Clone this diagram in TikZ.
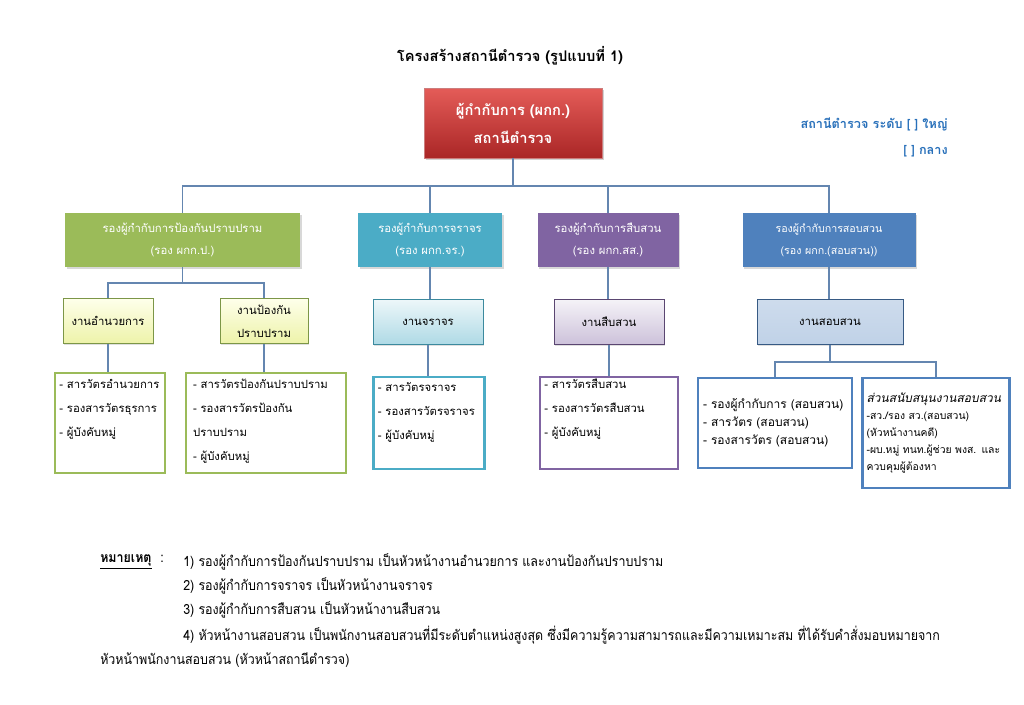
\documentclass[tikz,border=0pt]{standalone}
\usepackage{fontspec}
\newfontfamily\thai[Script=Thai]{Loma}
\newfontfamily\thainote[Script=Thai,FakeStretch=0.89]{Loma}
\newfontfamily\thaiit[Script=Thai,FakeSlant=0.2]{Loma}
\usetikzlibrary{shadows}
\definecolor{linkblue}{RGB}{100,134,176}
\definecolor{chiefhi}{RGB}{228,92,88}
\definecolor{chieflo}{RGB}{170,38,38}
\definecolor{sgreen}{RGB}{155,187,89}
\definecolor{scyan}{RGB}{75,172,198}
\definecolor{spurple}{RGB}{128,100,162}
\definecolor{sblue}{RGB}{79,129,189}
\definecolor{lvlblue}{RGB}{40,112,186}

\begin{document}
\begin{tikzpicture}[x=0.75pt,y=-0.75pt]
\tikzstyle{every node}+=[font=\thai]
\tikzstyle{conn}=[draw=linkblue,line width=0.8pt]
\tikzstyle{chiefbox}=[top color=chiefhi,bottom color=chieflo,draw=chieflo!60,text=white,align=center,
  minimum width=133.5pt,minimum height=52.5pt,font=\thai\bfseries\fontsize{11}{21}\selectfont,
  drop shadow={shadow xshift=1.5pt,shadow yshift=-1.5pt,opacity=0.35}]
\tikzstyle{deputy}=[text=white,align=center,minimum height=40.5pt,inner sep=2pt,
  font=\thai\fontsize{8.5}{17}\selectfont,drop shadow={shadow xshift=1.2pt,shadow yshift=-1.2pt,opacity=0.3}]
\tikzstyle{unit}=[align=center,minimum height=34pt,inner sep=2pt,line width=0.5pt,
  font=\thai\fontsize{8.5}{17}\selectfont,drop shadow={shadow xshift=1pt,shadow yshift=-1pt,opacity=0.25}]
\tikzstyle{duty}=[draw,fill=white,line width=1.8pt]
\tikzstyle{dutytxt}=[anchor=north west,inner sep=0pt,align=left,font=\thai\fontsize{8.5}{18}\selectfont]
\tikzstyle{notetxt}=[anchor=west,inner sep=0pt,font=\thainote\fontsize{10.5}{12}\selectfont]

\fill[white] (0,0) rectangle (1024,704);
\useasboundingbox (0,0) rectangle (1024,704);

\node[font=\thai\bfseries\fontsize{11}{13}\selectfont] (title) at (510,56) {โครงสร้างสถานีตำรวจ (รูปแบบที่ 1)};
\node[chiefbox] (chief) at (513,123) {ผู้กำกับการ (ผกก.)\\สถานีตำรวจ};
\node[anchor=north east,align=right,text=lvlblue,inner sep=0pt,font=\thai\bfseries\fontsize{9.5}{19.5}\selectfont] (size) at (948,117) {สถานีตำรวจ ระดับ [ ] ใหญ่\\{[ ]} กลาง};

\node[deputy,fill=sgreen,minimum width=176.25pt] (vpp) at (182.5,240) {รองผู้กำกับการป้องกันปราบปราม\\(รอง ผกก.ป.)};
\node[deputy,fill=scyan,minimum width=108pt] (vtr) at (430,240) {รองผู้กำกับการจราจร\\(รอง ผกก.จร.)};
\node[deputy,fill=spurple,minimum width=105.75pt] (vss) at (608,240) {รองผู้กำกับการสืบสวน\\(รอง ผกก.สส.)};
\node[deputy,fill=sblue,minimum width=129.75pt,font=\thai\fontsize{8}{16}\selectfont] (vsv) at (829,240) {รองผู้กำกับการสอบสวน\\(รอง ผกก.(สอบสวน))};

\node[unit,draw=sgreen!80!black,top color=green!4!yellow!8,bottom color=sgreen!45!yellow!40,minimum width=67.5pt] (gadmin) at (108,321) {งานอำนวยการ};
\node[unit,draw=sgreen!80!black,top color=green!4!yellow!8,bottom color=sgreen!45!yellow!40,minimum width=66pt] (gprev) at (264,321) {งานป้องกัน\\ปราบปราม};
\node[unit,draw=scyan!80!black,top color=scyan!10,bottom color=scyan!45,minimum width=82.5pt] (gtraf) at (428,322) {งานจราจร};
\node[unit,draw=spurple!70!black,top color=spurple!8,bottom color=spurple!40,minimum width=82.5pt] (ginv) at (609,322) {งานสืบสวน};
\node[unit,draw=sblue!70!black,top color=sblue!28,bottom color=sblue!36,minimum width=109.5pt] (gsv) at (830,322) {งานสอบสวน};

\node[duty,draw=sgreen,minimum width=82.5pt,minimum height=75pt] (d1) at (110,423) {};
\node[duty,draw=sgreen,minimum width=120pt,minimum height=75pt] (d2) at (266,423) {};
\node[duty,draw=scyan,minimum width=83.25pt,minimum height=69pt] (d3) at (429,423) {};
\node[duty,draw=spurple,minimum width=103.5pt,minimum height=69pt] (d4) at (609,423) {};
\node[duty,draw=sblue,minimum width=115.5pt,minimum height=67.5pt,align=left,text width=108pt,inner sep=3.5pt,
  font=\thai\fontsize{9}{13.5}\selectfont] (d5) at (775,423) {- รองผู้กำกับการ (สอบสวน)\\- สารวัตร (สอบสวน)\\- รองสารวัตร (สอบสวน)};
\node[duty,draw=sblue,minimum width=110.25pt,minimum height=82.5pt,align=left,text width=104pt,inner sep=3pt,
  font=\thai\fontsize{7.8}{12.75}\selectfont] (d6) at (936,433) {{\thaiit\fontsize{9}{12.75}\selectfont ส่วนสนับสนุนงานสอบสวน}\\-สว./รอง สว.(สอบสวน)\\(หัวหน้างานคดี)\\-ผบ.หมู่ ทนท.ผู้ช่วย พงส. และ\\ควบคุมผู้ต้องหา};

\node[dutytxt] (d1t) at ([xshift=4pt,yshift=-5.5pt]d1.north west) {- สารวัตรอำนวยการ\\- รองสารวัตรธุรการ\\- ผู้บังคับหมู่};
\node[dutytxt] (d2t) at ([xshift=6pt,yshift=-5.5pt]d2.north west) {- สารวัตรป้องกันปราบปราม\\- รองสารวัตรป้องกัน\\ปราบปราม\\- ผู้บังคับหมู่};
\node[dutytxt] (d3t) at ([xshift=4pt,yshift=-4.5pt]d3.north west) {- สารวัตรจราจร\\- รองสารวัตรจราจร\\- ผู้บังคับหมู่};
\node[dutytxt] (d4t) at ([xshift=4pt,yshift=-2.5pt]d4.north west) {- สารวัตรสืบสวน\\- รองสารวัตรสืบสวน\\- ผู้บังคับหมู่};

\coordinate (bus) at (513,186);
\coordinate (gbus) at (182.5,283);
\coordinate (sbus) at (830,362);
\draw[conn] (chief.south) -- (bus);
\draw[conn] (vpp.north) |- (bus) -| (vsv.north);
\draw[conn] (vtr.north) -- (vtr.north |- bus);
\draw[conn] (vss.north) -- (vss.north |- bus);
\draw[conn] (vpp.south) -- (gbus);
\draw[conn] (gadmin.north) |- (gbus) -| (gprev.north);
\draw[conn] (vtr.south) -- (vtr.south |- gtraf.north);
\draw[conn] (vss.south) -- (vss.south |- ginv.north);
\draw[conn] (vsv.south) -- (vsv.south |- gsv.north);
\draw[conn] (gadmin.south) -- (gadmin.south |- d1.north);
\draw[conn] (gprev.south) -- (gprev.south |- d2.north);
\draw[conn] (gtraf.south) -- (gtraf.south |- d3.north);
\draw[conn] (ginv.south) -- (ginv.south |- d4.north);
\draw[conn] (gsv.south) -- (sbus);
\draw[conn] (d5.north) |- (sbus) -| (d6.north);

\node[notetxt] (nhead) at (100,562) {\textbf{\underline{หมายเหตุ}}\,\, :};
\node[notetxt] (n1) at (183,562) {1) รองผู้กำกับการป้องกันปราบปราม เป็นหัวหน้างานอำนวยการ และงานป้องกันปราบปราม};
\node[notetxt] (n2) at (183,586) {2) รองผู้กำกับการจราจร เป็นหัวหน้างานจราจร};
\node[notetxt] (n3) at (183,610) {3) รองผู้กำกับการสืบสวน เป็นหัวหน้างานสืบสวน};
\node[notetxt] (n4) at (183,635) {4) หัวหน้างานสอบสวน เป็นพนักงานสอบสวนที่มีระดับตำแหน่งสูงสุด ซึ่งมีความรู้ความสามารถและมีความเหมาะสม ที่ได้รับคำสั่งมอบหมายจาก};
\node[notetxt] (n5) at (100,660) {หัวหน้าพนักงานสอบสวน (หัวหน้าสถานีตำรวจ)};
\end{tikzpicture}
\end{document}
